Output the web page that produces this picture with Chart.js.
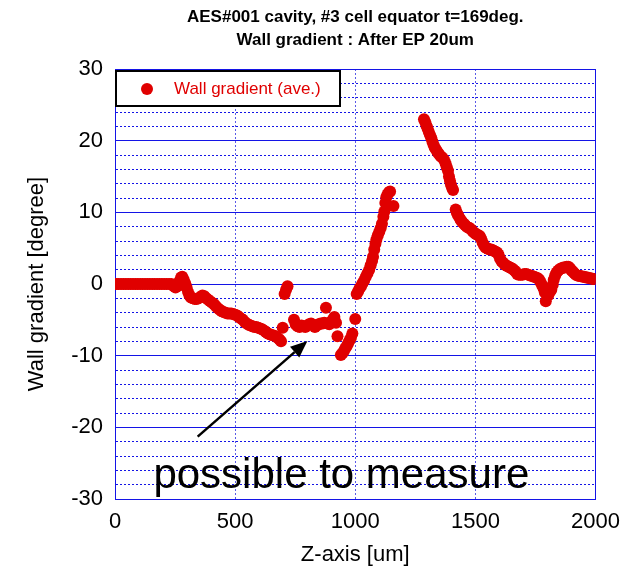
<!DOCTYPE html>
<html>
<head>
<meta charset="utf-8">
<title>Wall gradient</title>
<script src="https://cdn.jsdelivr.net/npm/chart.js@4.4.1/dist/chart.umd.min.js"></script>
<style>
  html, body { margin: 0; padding: 0; background: #fff; overflow: hidden; }
  canvas { display: block; }
</style>
</head>
<body>
<canvas id="gradient-chart" width="630" height="573"></canvas>
<script>
// Chart data
const titleLines = ['AES#001 cavity, #3 cell equator t=169deg.', 'Wall gradient : After EP 20um'];
const seriesLabel = 'Wall gradient (ave.)';
const xTitle = 'Z-axis [um]';
const yTitle = 'Wall gradient [degree]';
const noteText = 'possible to measure';

const zAxis = [
  5, 15, 25, 35, 45, 55, 65, 75, 85, 95, 105, 115, 125, 135, 145, 155, 165, 175, 185, 195, 205, 215, 225, 235,
  245, 252, 260, 268, 275, 280, 286, 292, 298, 304, 310, 316, 324, 332, 340, 348, 356, 364, 372, 380, 388, 396,
  404, 412, 420, 428, 436, 444, 452, 460, 468, 476, 484, 492, 500, 508, 516, 524, 532, 540, 548, 556, 564, 572,
  580, 588, 596, 604, 612, 620, 628, 636, 644, 652, 660, 668, 676, 684, 691,
  698, 706, 712, 718,
  745, 752, 760, 768, 776, 784, 792, 800, 808, 816, 824, 832, 840, 848, 856, 864, 871, 878, 885, 892, 899, 906,
  913, 920, 926,
  940, 946, 952, 958, 964, 970, 976, 982, 988,
  1000,
  1006, 1012, 1018, 1024, 1030, 1037, 1044, 1051, 1058, 1064, 1070, 1074, 1079, 1084, 1088, 1094, 1100, 1106,
  1111, 1117, 1121, 1125, 1129, 1134, 1140, 1145, 1159,
  1286, 1291, 1296, 1301, 1306, 1311, 1316, 1321, 1326, 1331, 1337, 1343, 1349, 1356, 1363, 1370, 1376, 1381,
  1386, 1390, 1394, 1398, 1403, 1407,
  1418, 1423, 1428, 1434, 1440, 1446, 1452, 1458, 1464, 1470, 1476, 1482, 1488, 1494, 1500, 1506, 1512, 1518,
  1524, 1530, 1536, 1542, 1548, 1554, 1560, 1566, 1572, 1578, 1584, 1590, 1596, 1602, 1608, 1614, 1620, 1626,
  1632, 1638, 1644, 1650, 1656, 1662, 1668, 1674, 1680, 1688, 1696, 1704, 1712, 1720, 1728, 1736, 1744, 1752,
  1760, 1766, 1772, 1778, 1784, 1789, 1793, 1803, 1810, 1816, 1822, 1826, 1832, 1838, 1845, 1852, 1859, 1866,
  1873, 1880, 1887, 1894, 1900, 1906, 1912, 1918, 1925, 1932, 1939, 1946, 1953, 1960, 1967, 1974, 1981, 1988, 1994
];

const wallGradient = [
  0, 0, 0, 0, 0, 0, 0, 0, 0, 0, 0, 0, 0, 0, 0, 0, 0, 0, 0, 0, 0, 0, 0, 0,
  -0.3, -0.5, -0.3, 0.4, 0.9, 1.0, 0.6, 0.1, -0.5, -1.1, -1.6, -1.9, -2.0, -2.1, -2.1, -2.0, -1.8, -1.6, -1.7, -2.0, -2.2, -2.4,
  -2.6, -2.8, -3.1, -3.4, -3.6, -3.8, -3.9, -4.0, -4.1, -4.1, -4.1, -4.2, -4.3, -4.4, -4.6, -4.8, -5.0, -5.3, -5.5, -5.7, -5.8, -5.9,
  -6.0, -6.0, -6.1, -6.2, -6.3, -6.5, -6.7, -6.9, -7.0, -7.1, -7.2, -7.3, -7.5, -7.7, -8.0,
  -6.1, -1.4, -0.8, -0.3,
  -5.0, -5.6, -5.9, -6.0, -5.8, -5.9, -6.0, -5.8, -5.6, -5.5, -5.7, -6.0, -5.8, -5.6, -5.5, -5.5, -5.4, -3.3, -5.5, -5.6, -5.3, -5.0,
  -4.6, -5.4, -7.3,
  -9.9, -9.7, -9.4, -9.0, -8.7, -8.3, -7.9, -7.5, -6.9,
  -4.9,
  -1.4, -1.0, -0.6, -0.3, 0.1, 0.5, 1.0, 1.5, 2.0, 2.6, 3.2, 3.8, 4.8, 5.6, 6.2, 6.8, 7.3, 7.8,
  8.4, 9.4, 10.1, 11.3, 12.1, 12.5, 12.8, 12.9, 10.9,
  23.0, 22.6, 22.1, 21.7, 21.2, 20.8, 20.4, 19.9, 19.4, 19.0, 18.7, 18.4, 18.1, 17.8, 17.6, 17.3, 16.8, 16.3,
  15.8, 15.0, 14.4, 13.9, 13.4, 13.1,
  10.4, 9.9, 9.6, 9.2, 8.9, 8.6, 8.4, 8.2, 8.0, 7.9, 7.8, 7.6, 7.4, 7.2, 7.0, 6.9, 6.8, 6.7,
  6.3, 5.8, 5.4, 5.1, 5.0, 4.9, 4.8, 4.8, 4.7, 4.6, 4.5, 4.4, 4.1, 3.6, 3.2, 3.0, 2.8, 2.6,
  2.5, 2.4, 2.3, 2.2, 2.1, 1.9, 1.7, 1.4, 1.3, 1.3, 1.3, 1.4, 1.4, 1.3, 1.2, 1.1, 1.0, 0.9,
  0.8, 0.6, 0.2, -0.2, -0.6, -1.2, -2.4, -1.6, -1.1, -0.8, -0.1, 0.6, 1.2, 1.6, 1.9, 2.1, 2.2, 2.3,
  2.3, 2.4, 2.4, 2.2, 1.9, 1.7, 1.5, 1.3, 1.2, 1.1, 1.1, 1.0, 1.0, 0.9, 0.9, 0.8, 0.8, 0.7, 0.7
];

const xTickStep = 500;
const yTickStep = 2;
const yMajorStep = 10;

// annotation arrow and note, in data units
const arrowTail = [344, -21.3];
const arrowHead = [801, -7.95];
const notePos = [942, -28.5];

const RED = '#e00000';
const BLUE = '#1414e6';
const LIGHT_BLUE = '#5a5ae8';
const FONT = '"Liberation Sans", Arial, sans-serif';

const points = zAxis.map((z, i) => ({x: z, y: wallGradient[i]}));

// titles, legend box, arrow and note
const overlay = {
  id: 'overlay',
  afterDraw(chart) {
    const {ctx, chartArea: area, scales: {x, y}} = chart;
    ctx.save();

    const cx = (area.left + area.right) / 2;
    ctx.fillStyle = '#000';
    ctx.font = 'bold 17px ' + FONT;
    ctx.textAlign = 'center';
    ctx.textBaseline = 'middle';
    titleLines.forEach((t, i) => ctx.fillText(t, cx, 17 + i * 23));

    // legend
    const lx = area.left + 1, ly = area.top + 2;
    ctx.fillStyle = '#fff';
    ctx.fillRect(lx, ly, 224, 35);
    ctx.strokeStyle = '#000';
    ctx.lineWidth = 2;
    ctx.strokeRect(lx, ly, 224, 35);
    ctx.fillStyle = RED;
    ctx.beginPath();
    ctx.arc(lx + 31, ly + 18, 6, 0, Math.PI * 2);
    ctx.fill();
    ctx.font = '17px ' + FONT;
    ctx.textAlign = 'left';
    ctx.fillText(seriesLabel, lx + 58, ly + 18);

    // arrow
    const x0 = x.getPixelForValue(arrowTail[0]), y0 = y.getPixelForValue(arrowTail[1]);
    const x1 = x.getPixelForValue(arrowHead[0]), y1 = y.getPixelForValue(arrowHead[1]);
    const ang = Math.atan2(y1 - y0, x1 - x0);
    const headLen = 17, headW = 7;
    const bx = x1 - headLen * Math.cos(ang), by = y1 - headLen * Math.sin(ang);
    ctx.strokeStyle = '#000';
    ctx.lineWidth = 2.5;
    ctx.beginPath();
    ctx.moveTo(x0, y0);
    ctx.lineTo(bx, by);
    ctx.stroke();
    ctx.fillStyle = '#000';
    ctx.beginPath();
    ctx.moveTo(x1, y1);
    ctx.lineTo(bx + headW * Math.sin(ang), by - headW * Math.cos(ang));
    ctx.lineTo(bx - headW * Math.sin(ang), by + headW * Math.cos(ang));
    ctx.closePath();
    ctx.fill();

    // note
    ctx.font = '42px ' + FONT;
    ctx.textAlign = 'center';
    ctx.textBaseline = 'alphabetic';
    ctx.fillText(noteText, x.getPixelForValue(notePos[0]), y.getPixelForValue(notePos[1]));

    ctx.restore();
  }
};

const gradientChart = new Chart(document.getElementById('gradient-chart').getContext('2d'), {
  type: 'scatter',
  data: {
    datasets: [{
      label: seriesLabel,
      data: points,
      backgroundColor: RED,
      borderWidth: 0,
      pointRadius: 6,
      pointHoverRadius: 6
    }]
  },
  plugins: [overlay],
  options: {
    responsive: false,
    animation: false,
    layout: { padding: { top: 69, right: 33, left: 0, bottom: 0 } },
    plugins: {
      legend: { display: false },
      title: { display: false },
      tooltip: { enabled: false }
    },
    scales: {
      x: {
        type: 'linear',
        min: 0,
        max: 2000,
        afterFit: (scale) => { scale.height = 74; },
        ticks: {
          stepSize: xTickStep,
          color: '#000',
          font: { family: FONT, size: 22 },
          padding: 10,
          callback: (v) => v
        },
        grid: {
          color: (ctx) => (ctx.tick && ctx.tick.value === 2000 ? BLUE : LIGHT_BLUE),
          lineWidth: 1,
          drawTicks: false
        },
        border: {
          display: true,
          color: BLUE,
          width: 1,
          dash: (ctx) => (ctx.tick && ctx.tick.value !== 2000 ? [2, 2] : [])
        },
        title: {
          display: true,
          text: xTitle,
          color: '#000',
          font: { family: FONT, size: 22 },
          padding: { top: 4, bottom: 5 }
        }
      },
      y: {
        type: 'linear',
        min: -30,
        max: 30,
        afterFit: (scale) => { scale.width = 115; },
        ticks: {
          stepSize: yTickStep,
          autoSkip: false,
          color: '#000',
          font: { family: FONT, size: 22 },
          padding: 12,
          callback: (v) => (v % yMajorStep === 0 ? v : '')
        },
        grid: { color: BLUE, lineWidth: 1, drawTicks: false },
        border: {
          display: true,
          color: BLUE,
          width: 1,
          dash: (ctx) => (ctx.tick && ctx.tick.value % yMajorStep !== 0 ? [2, 2] : [])
        },
        title: {
          display: true,
          text: yTitle,
          color: '#000',
          font: { family: FONT, size: 22 },
          padding: { top: 24, bottom: 4 }
        }
      }
    }
  }
});
</script>
</body>
</html>
